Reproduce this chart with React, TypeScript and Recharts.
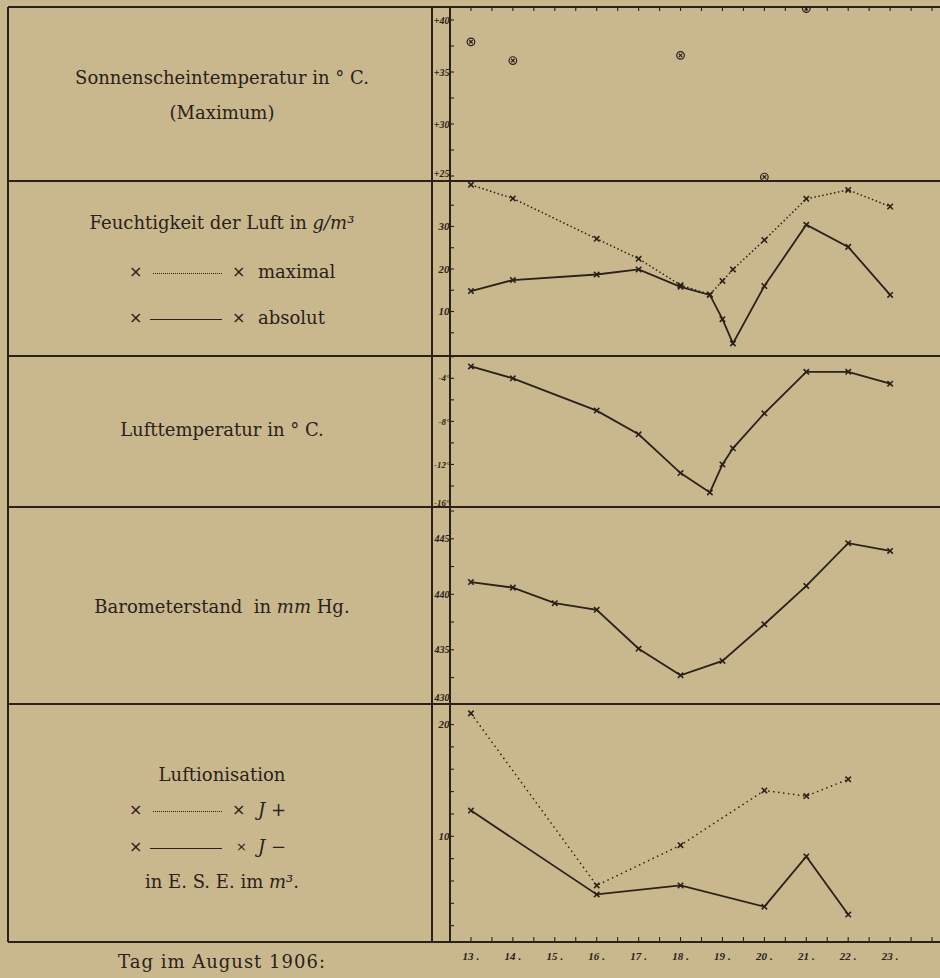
import React from "react";
import { ComposedChart, Line, XAxis, YAxis } from "recharts";

const INK = "#2a2118";
const PAPER = "#c9b88e";
const SERIF = "'DejaVu Serif', serif";
const TICK_FONT = "'Liberation Serif', serif";

// days of August 1906
const DAY_LABELS = [13, 14, 15, 16, 17, 18, 19, 20, 21, 22, 23];
const DAY_TICKS = [13, 13.5, 14, 14.5, 15, 15.5, 16, 16.5, 17, 17.5, 18, 18.5, 19, 19.5, 20, 20.5, 21, 21.5, 22, 22.5, 23, 23.5, 24];
const X_DOMAIN = [12.5, 24.19];

// Sonnenscheintemperatur (Maximum)
const SUN_DAYS = [13, 14, 18, 20, 21];
const SUN_MAX = [37.9, 36.1, 36.6, 24.9, 41.1];
const SUN_TICKS = [25, 27.5, 30, 32.5, 35, 37.5, 40];
const SUN_MAJOR = [25, 30, 35, 40];
const SUN_TEXT = ["+25", "+30", "+35", "+40"];

// Feuchtigkeit g/m3
const HUM_DAYS = [13, 14, 16, 17, 18, 18.7, 19, 19.25, 20, 21, 22, 23];
const HUM_MAX = [39.8, 36.6, 27.1, 22.4, 16.2, 14.0, 17.2, 19.9, 26.8, 36.5, 38.6, 34.7];
const HUM_ABS = [14.8, 17.4, 18.7, 19.9, 15.8, 13.9, 8.2, 2.5, 16.0, 30.4, 25.2, 13.9];
const HUM_TICKS = [5, 10, 15, 20, 25, 30, 35];
const HUM_MAJOR = [10, 20, 30];
const HUM_TEXT = ["10", "20", "30"];

// Lufttemperatur
const TEMP_DAYS = [13, 14, 16, 17, 18, 18.7, 19, 19.25, 20, 21, 22, 23];
const TEMP = [-2.9, -4.0, -7.0, -9.2, -12.8, -14.6, -12.0, -10.5, -7.25, -3.4, -3.4, -4.5];
const TEMP_TICKS = [-16, -14, -12, -10, -8, -6, -4, -2];
const TEMP_MAJOR = [-16, -12, -8, -4];
const TEMP_TEXT = ["-16°", "-12°", "-8°", "-4°"];

// Barometerstand mm Hg
const BARO_DAYS = [13, 14, 15, 16, 17, 18, 19, 20, 21, 22, 23];
const BARO = [441.1, 440.6, 439.2, 438.6, 435.1, 432.7, 434.0, 437.3, 440.75, 444.6, 443.9];
const BARO_TICKS = [430, 432.5, 435, 437.5, 440, 442.5, 445, 447.5];
const BARO_MAJOR = [430, 435, 440, 445];
const BARO_TEXT = ["430", "435", "440", "445"];

// Luftionisation E.S.E. / m3
const ION_DAYS = [13, 16, 18, 20, 21, 22];
const ION_POS = [21.0, 5.6, 9.2, 14.1, 13.6, 15.1];
const ION_NEG = [12.3, 4.8, 5.6, 3.7, 8.2, 3.0];
const ION_TICKS = [2, 4, 6, 8, 10, 12, 14, 16, 18, 20];
const ION_MAJOR = [10, 20];
const ION_TEXT = ["10", "20"];

const sunData = SUN_DAYS.map((d, i) => ({ day: d, t: SUN_MAX[i] }));
const humData = HUM_DAYS.map((d, i) => ({ day: d, max: HUM_MAX[i], abs: HUM_ABS[i] }));
const tempData = TEMP_DAYS.map((d, i) => ({ day: d, t: TEMP[i] }));
const baroData = BARO_DAYS.map((d, i) => ({ day: d, p: BARO[i] }));
const ionData = ION_DAYS.map((d, i) => ({ day: d, pos: ION_POS[i], neg: ION_NEG[i] }));

function makeYTick(major: number[], text: string[], lowShift: number, size: number) {
  return (p: any) => {
    const { x, y, payload } = p;
    const i = major.indexOf(payload.value);
    return (
      <g>
        <line x1={x} x2={x + 4} y1={y} y2={y} stroke={INK} strokeWidth={1.1} />
        {i >= 0 && (
          <text
            x={x - 0.5}
            y={i === 0 ? y - lowShift : y}
            dy="0.35em"
            textAnchor="end"
            fontFamily={TICK_FONT}
            fontStyle="italic"
            fontWeight="bold"
            fontSize={size}
            fill={INK}
          >
            {text[i]}
          </text>
        )}
      </g>
    );
  };
}

function DayTick(p: any) {
  const { x, y, payload } = p;
  const isDay = DAY_LABELS.includes(payload.value);
  return (
    <g>
      <line x1={x} x2={x} y1={y} y2={y - 5} stroke={INK} strokeWidth={1.1} />
      {isDay && (
        <text x={x} y={y + 18} textAnchor="middle" fontFamily={TICK_FONT} fontStyle="italic" fontWeight="bold" fontSize={11} fill={INK}>
          {payload.value}
          <tspan dx={3}>.</tspan>
        </text>
      )}
    </g>
  );
}

function TopTick(p: any) {
  const { x, y } = p;
  return <line x1={x} x2={x} y1={y} y2={y + 4} stroke={INK} strokeWidth={1.1} />;
}

function Cross(p: any) {
  const { cx, cy } = p;
  if (cx == null || cy == null) return <g />;
  const s = 2.7;
  return (
    <g stroke={INK} strokeWidth={1.6}>
      <line x1={cx - s} y1={cy - s} x2={cx + s} y2={cy + s} />
      <line x1={cx - s} y1={cy + s} x2={cx + s} y2={cy - s} />
    </g>
  );
}

function SunDot(p: any) {
  const { cx, cy } = p;
  if (cx == null || cy == null) return <g />;
  const s = 1.8;
  return (
    <g stroke={INK} strokeWidth={1.2} fill="none">
      <circle cx={cx} cy={cy} r={3.8} />
      <line x1={cx - s} y1={cy - s} x2={cx + s} y2={cy + s} />
      <line x1={cx - s} y1={cy + s} x2={cx + s} y2={cy - s} />
    </g>
  );
}

const hiddenX = <XAxis type="number" dataKey="day" domain={X_DOMAIN} allowDataOverflow hide />;

function Panel({ top, height, data, domain, ticks, major, text, lowShift, size = 11, axis, children }: any) {
  return (
    <div style={{ position: "absolute", left: 432, top }}>
      <ComposedChart width={508} height={height} data={data} margin={{ top: 0, right: 0, bottom: 0, left: 0 }}>
        {axis}
        <YAxis
          type="number"
          domain={domain}
          allowDataOverflow
          ticks={ticks}
          interval={0}
          width={18}
          tickSize={0}
          tickMargin={0}
          axisLine={false}
          tickLine={false}
          tick={makeYTick(major, text, lowShift, size)}
        />
        {children}
      </ComposedChart>
    </div>
  );
}

const hLine = (y: number) => (
  <div key={"h" + y} style={{ position: "absolute", left: 8, top: y - 1, width: 932, height: 2, background: INK }} />
);
const vLine = (x: number) => (
  <div key={"v" + x} style={{ position: "absolute", left: x - 0.75, top: 7, width: 1.5, height: 935, background: INK }} />
);

function TextLine({ y, children, style }: any) {
  return (
    <div
      style={{
        position: "absolute",
        left: 10,
        width: 424,
        top: y - 13,
        height: 26,
        lineHeight: "26px",
        textAlign: "center",
        fontSize: 18,
        whiteSpace: "nowrap",
        ...style,
      }}
    >
      {children}
    </div>
  );
}

function LegendRow({ y, dotted, label, smallEnd }: any) {
  return (
    <div style={{ position: "absolute", left: 0, top: y - 13, height: 26, width: 432, lineHeight: "26px", fontSize: 18 }}>
      <span style={{ position: "absolute", left: 129, fontFamily: "'DejaVu Sans', sans-serif", fontSize: 16 }}>×</span>
      <span
        style={{
          position: "absolute",
          left: dotted ? 153 : 150,
          top: 14,
          width: dotted ? 69 : 72,
          borderTop: dotted ? `1.5px dotted ${INK}` : `1.4px solid ${INK}`,
        }}
      />
      <span style={{ position: "absolute", left: smallEnd ? 236 : 232, fontFamily: "'DejaVu Sans', sans-serif", fontSize: smallEnd ? 13 : 16 }}>×</span>
      <span style={{ position: "absolute", left: 258 }}>{label}</span>
    </div>
  );
}

export default function App() {
  return (
    <div
      style={{
        position: "absolute",
        left: 0,
        top: 0,
        width: 940,
        height: 978,
        background: PAPER,
        overflow: "hidden",
        color: INK,
        fontFamily: SERIF,
      }}
    >
      {[7, 181, 356, 507, 704, 942].map(hLine)}
      {[8, 432, 450].map(vLine)}

      <TextLine y={78}>Sonnenscheintemperatur in ° C.</TextLine>
      <TextLine y={113}>(Maximum)</TextLine>
      <TextLine y={223}>
        Feuchtigkeit der Luft in <i>g/m³</i>
      </TextLine>
      <LegendRow y={272} dotted label="maximal" />
      <LegendRow y={318} label="absolut" />
      <TextLine y={430}>Lufttemperatur in ° C.</TextLine>
      <TextLine y={607}>
        Barometerstand&nbsp; in <i>mm</i> Hg.
      </TextLine>
      <TextLine y={775}>Luftionisation</TextLine>
      <LegendRow y={810} dotted label={<span><i>J</i> +</span>} />
      <LegendRow y={847} smallEnd label={<span><i>J</i> −</span>} />
      <TextLine y={882}>
        in E. S. E. im <i>m³</i>.
      </TextLine>
      <TextLine y={962} style={{ letterSpacing: 1 }}>
        Tag im August 1906:
      </TextLine>

      <Panel
        top={-3}
        height={184}
        data={sunData}
        domain={[24.52, 41.25]}
        ticks={SUN_TICKS}
        major={SUN_MAJOR}
        text={SUN_TEXT}
        lowShift={3}
        size={10}
        axis={
          <XAxis
            type="number"
            dataKey="day"
            orientation="top"
            domain={X_DOMAIN}
            allowDataOverflow
            ticks={DAY_TICKS}
            interval={0}
            height={10}
            tickSize={0}
            tickMargin={0}
            axisLine={false}
            tickLine={false}
            tick={TopTick}
          />
        }
      >
        <Line dataKey="t" stroke="none" dot={SunDot} isAnimationActive={false} />
      </Panel>

      <Panel top={181} height={175} data={humData} domain={[-0.47, 40.7]} ticks={HUM_TICKS} major={HUM_MAJOR} text={HUM_TEXT} lowShift={0} axis={hiddenX}>
        <Line dataKey="max" stroke={INK} strokeWidth={1.5} strokeDasharray="1.5 2.5" dot={Cross} isAnimationActive={false} />
        <Line dataKey="abs" stroke={INK} strokeWidth={1.8} dot={Cross} isAnimationActive={false} />
      </Panel>

      <Panel top={356} height={151} data={tempData} domain={[-15.95, -1.93]} ticks={TEMP_TICKS} major={TEMP_MAJOR} text={TEMP_TEXT} lowShift={5} size={9} axis={hiddenX}>
        <Line dataKey="t" stroke={INK} strokeWidth={1.8} dot={Cross} isAnimationActive={false} />
      </Panel>

      <Panel top={507} height={197} data={baroData} domain={[430.12, 447.86]} ticks={BARO_TICKS} major={BARO_MAJOR} text={BARO_TEXT} lowShift={8} size={10} axis={hiddenX}>
        <Line dataKey="p" stroke={INK} strokeWidth={1.8} dot={Cross} isAnimationActive={false} />
      </Panel>

      <Panel
        top={704}
        height={274}
        data={ionData}
        domain={[0.54, 21.84]}
        ticks={ION_TICKS}
        major={ION_MAJOR}
        text={ION_TEXT}
        lowShift={0}
        axis={
          <XAxis
            type="number"
            dataKey="day"
            domain={X_DOMAIN}
            allowDataOverflow
            ticks={DAY_TICKS}
            interval={0}
            height={36}
            tickSize={0}
            tickMargin={0}
            axisLine={false}
            tickLine={false}
            tick={DayTick}
          />
        }
      >
        <Line dataKey="pos" stroke={INK} strokeWidth={1.5} strokeDasharray="1.5 3.5" dot={Cross} isAnimationActive={false} />
        <Line dataKey="neg" stroke={INK} strokeWidth={1.8} dot={Cross} isAnimationActive={false} />
      </Panel>
    </div>
  );
}
